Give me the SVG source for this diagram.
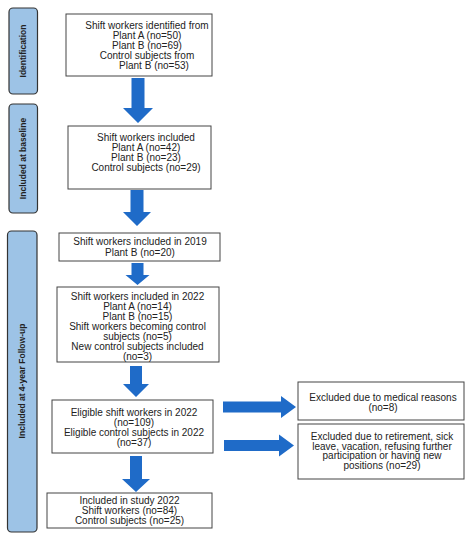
<svg xmlns="http://www.w3.org/2000/svg" width="470" height="536" viewBox="0 0 470 536">
<style>
.lbl{fill:#9DC3E6;stroke:#333;stroke-width:1.2}
.box{fill:#fff;stroke:#444;stroke-width:1}
.t{font-family:"Liberation Sans",Arial,sans-serif;font-size:10px;fill:#222;text-anchor:middle}
.lt{font-family:"Liberation Sans",Arial,sans-serif;font-size:8.5px;font-weight:bold;fill:#222;text-anchor:middle}
.arr{fill:#1F6BC8}
</style>
<rect width="470" height="536" fill="#fff"/>
<g id="label-identification">
<rect class="lbl" x="9" y="8" width="28.5" height="86" rx="4"/>
<text class="lt" transform="translate(26 51) rotate(-90)">Identification</text>
</g>
<g id="label-baseline">
<rect class="lbl" x="9" y="104" width="28.5" height="109" rx="4"/>
<text class="lt" transform="translate(26 158.5) rotate(-90)">Included at baseline</text>
</g>
<g id="label-followup">
<rect class="lbl" x="7.5" y="231" width="29.5" height="301" rx="4"/>
<text class="lt" transform="translate(25 381) rotate(-90)">Included at 4-year Follow-up</text>
</g>
<g id="box-identified">
<rect class="box" x="66" y="14" width="146" height="62"/>
<text class="t" x="147" y="28.5">Shift workers identified from</text>
<text class="t" x="147" y="38.5">Plant A (no=50)</text>
<text class="t" x="147" y="48.5">Plant B (no=69)</text>
<text class="t" x="147" y="59">Control subjects from</text>
<text class="t" x="154" y="69">Plant B (no=53)</text>
</g>
<g id="box-baseline">
<rect class="box" x="68" y="126" width="143" height="63"/>
<text class="t" x="146" y="140.5">Shift workers included</text>
<text class="t" x="146" y="151">Plant A (no=42)</text>
<text class="t" x="146" y="161">Plant B (no=23)</text>
<text class="t" x="146" y="171">Control subjects (no=29)</text>
</g>
<g id="box-2019">
<rect class="box" x="59" y="233" width="161" height="28"/>
<text class="t" x="140" y="245">Shift workers included in 2019</text>
<text class="t" x="140" y="255.5">Plant B (no=20)</text>
</g>
<g id="box-2022">
<rect class="box" x="57" y="287" width="162" height="75"/>
<text class="t" x="137.5" y="300">Shift workers included in 2022</text>
<text class="t" x="137.5" y="310">Plant A (no=14)</text>
<text class="t" x="137.5" y="320">Plant B (no=15)</text>
<text class="t" x="137.5" y="330">Shift workers becoming control</text>
<text class="t" x="137.5" y="340">subjects (no=5)</text>
<text class="t" x="137.5" y="350">New control subjects included</text>
<text class="t" x="137.5" y="359.5">(no=3)</text>
</g>
<g id="box-eligible">
<rect class="box" x="52" y="400" width="161" height="53"/>
<text class="t" x="134" y="415.5">Eligible shift workers in 2022</text>
<text class="t" x="134" y="425.5">(no=109)</text>
<text class="t" x="134" y="435.5">Eligible control subjects in 2022</text>
<text class="t" x="134" y="445.5">(no=37)</text>
</g>
<g id="box-included">
<rect class="box" x="47" y="493" width="165" height="35"/>
<text class="t" x="129.5" y="503.5">Included in study 2022</text>
<text class="t" x="129.5" y="513.5">Shift workers (no=84)</text>
<text class="t" x="129.5" y="523.5">Control subjects (no=25)</text>
</g>
<g id="box-excluded-medical">
<rect class="box" x="298" y="382" width="166" height="38"/>
<text class="t" x="383" y="400.5">Excluded due to medical reasons</text>
<text class="t" x="383" y="410.5">(no=8)</text>
</g>
<g id="box-excluded-other">
<rect class="box" x="298" y="424" width="166" height="55"/>
<text class="t" x="382" y="440">Excluded due to retirement, sick</text>
<text class="t" x="382" y="449.5">leave, vacation, refusing further</text>
<text class="t" x="382" y="459">participation or having new</text>
<text class="t" x="382" y="468.5">positions (no=29)</text>
</g>
<g id="connectors">
<polygon class="arr" points="131.5,78 144.5,78 144.5,108 153,108 138,123 123,108 131.5,108"/>
<polygon class="arr" points="130.5,190 143.5,190 143.5,212 151,212 137,226 123,212 130.5,212"/>
<polygon class="arr" points="131.5,263 143.5,263 143.5,275 149.5,275 137.5,285 125.5,275 131.5,275"/>
<polygon class="arr" points="130,366 142,366 142,384 149,384 136,397 123,384 130,384"/>
<polygon class="arr" points="130,456 142,456 142,479 150,479 136,492 122,479 130,479"/>
<polygon class="arr" points="223,401.5 281,401.5 281,396 296,407 281,418 281,412.5 223,412.5"/>
<polygon class="arr" points="224,440 279,440 279,434.5 294,445.5 279,456.5 279,451 224,451"/>
</g>
</svg>
